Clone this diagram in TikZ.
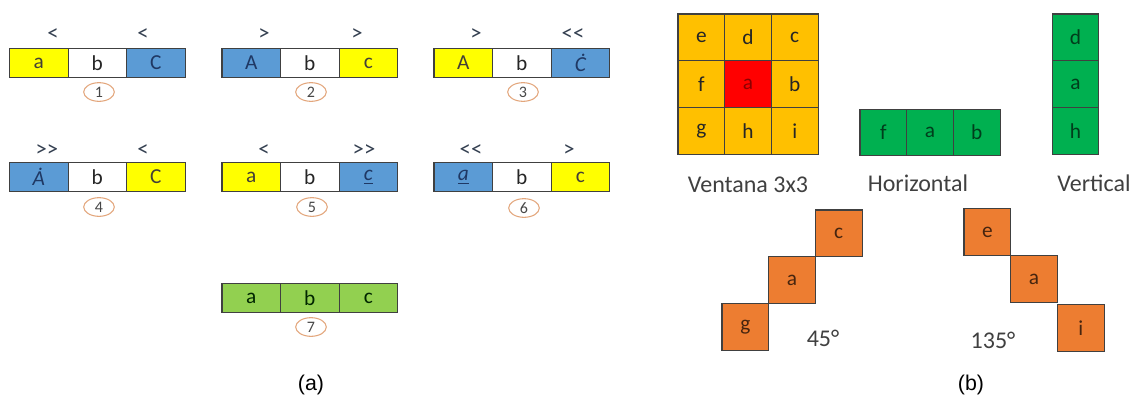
\documentclass[tikz,border=0pt]{standalone}
\usepackage{fontspec}
\setmainfont{Carlito}
\newfontfamily\arialf{Liberation Sans}
\usetikzlibrary{shapes.geometric}
\definecolor{yel}{HTML}{FFFF00}
\definecolor{blu}{HTML}{5B9BD5}
\definecolor{lgr}{HTML}{92D050}
\definecolor{dgr}{HTML}{00B050}
\definecolor{gold}{HTML}{FFC000}
\definecolor{redc}{HTML}{FF0000}
\definecolor{org}{HTML}{ED7D31}
\definecolor{bord}{HTML}{404040}
\definecolor{navy}{HTML}{1F3864}
\definecolor{txt}{HTML}{262626}
\definecolor{circ}{HTML}{E3A67C}
\definecolor{lbl}{HTML}{404040}
\definecolor{symc}{HTML}{333F50}
\tikzset{
 cell/.style={draw=bord, line width=0.8pt, minimum width=43.9pt, minimum height=21.75pt,
   inner sep=0pt, outer sep=0pt, anchor=west, font=\fontsize{16}{16}\selectfont, text=txt},
 ycell/.style={cell, fill=yel, text=black!85!yellow},
 bcell/.style={cell, fill=blu, text=navy},
 wcell/.style={cell, fill=white},
 gcell/.style={cell, fill=lgr, text=black!85!green},
 sq/.style={draw=bord, line width=0.8pt, minimum size=35pt, inner sep=0pt, outer sep=0pt,
   font=\fontsize{16}{16}\selectfont, text=txt},
 gsq/.style={sq, fill=gold},
 rsq/.style={sq, fill=redc, text=red!55!black},
 hsq/.style={sq, fill=dgr, text=dgr!35!black},
 osq/.style={sq, fill=org, text=org!30!black},
 sym/.style={font=\fontsize{17}{17}\selectfont, text=symc, inner sep=0pt},
 numc/.style={ellipse, draw=circ, line width=0.8pt, minimum width=23pt, minimum height=14pt,
   inner sep=0pt, font=\fontsize{12}{12}\selectfont, text=txt!85!white},
 lab/.style={font=\fontsize{18}{18}\selectfont, text=lbl, inner sep=0pt},
 captxt/.style={font=\arialf\fontsize{16}{16}\selectfont, text=black, inner sep=0pt}
}
\newcommand\threebar[9]{%
 \node[#4] (#1a) at (#2,#3) {#5};
 \node[#6] (#1b) at (#1a.east) {#7};
 \node[#8] (#1c) at (#1b.east) {#9};
}
\begin{document}
\begin{tikzpicture}[x=0.75pt,y=-0.75pt]
\useasboundingbox[fill=white] (0,0) rectangle (1139,408);
% ---------- (a) ----------
% row 1
\threebar{ra}{9.5}{63}{ycell}{a}{wcell}{b}{bcell}{C}
\node[sym] (sa1) at (53,35) {<};
\node[sym] (sa2) at (143,35) {<};
\node[numc] (na) at (99,92) {1};
\threebar{rb}{222}{63}{bcell}{A}{wcell}{b}{ycell}{c}
\node[sym] (sb1) at (264,35) {>};
\node[sym] (sb2) at (357,35) {>};
\node[numc] (nb) at (311,92) {2};
\threebar{rc}{434}{63}{ycell}{A}{wcell}{b}{bcell}{\itshape Ċ}
\node[sym] (sc1) at (476,35) {>};
\node[sym] (sc2) at (573,35) {<{}<};
\node[numc] (nc) at (523,92) {3};
% row 2
\threebar{rd}{9.5}{177}{bcell}{\itshape Ȧ}{wcell}{b}{ycell}{C}
\node[sym] (sd1) at (47,151) {>{}>};
\node[sym] (sd2) at (143,151) {<};
\node[numc] (nd) at (99,207) {4};
\threebar{re}{222}{177}{ycell}{a}{wcell}{b}{bcell}{\itshape\underline{c}}
\node[sym] (se1) at (264,151) {<};
\node[sym] (se2) at (364,151) {>{}>};
\node[numc] (ne) at (312,207) {5};
\threebar{rf}{434}{177}{bcell}{\itshape\underline{a}}{wcell}{b}{ycell}{c}
\node[sym] (sf1) at (471,151) {<{}<};
\node[sym] (sf2) at (569,151) {>};
\node[numc] (nf) at (524,208) {6};
% row 3
\threebar{rg}{222}{298}{gcell}{a}{gcell}{b}{gcell}{c}
\node[numc] (ng) at (311,327) {7};
\node[captxt] (capa) at (311,385) {(a)};
% ---------- (b) ----------
% 3x3 window
\node[gsq] (we) at (701.3,37.3) {e};
\node[gsq] (wd) at (748,37.3) {d};
\node[gsq] (wc) at (794.7,37.3) {c};
\node[gsq] (wf) at (701.3,84) {f};
\node[rsq] (wa) at (748,84) {a};
\node[gsq] (wb) at (794.7,84) {b};
\node[gsq] (wg) at (701.3,130.7) {g};
\node[gsq] (wh) at (748,130.7) {h};
\node[gsq] (wi) at (794.7,130.7) {i};
\node[lab] (lv) at (748,185) {Ventana 3x3};
% horizontal
\node[hsq] (hf) at (883.3,132.5) {f};
\node[hsq] (ha) at (930,132.5) {a};
\node[hsq] (hb) at (976.7,132.5) {b};
\node[lab] (lh) at (918,183) {Horizontal};
% vertical
\node[hsq] (vd) at (1075.5,37.3) {d};
\node[hsq] (va) at (1075.5,84) {a};
\node[hsq] (vh) at (1075.5,130.7) {h};
\node[lab] (lvt) at (1094,183) {Vertical};
% 45 deg
\node[osq] (dg) at (745.3,326.7) {g};
\node[osq] (da) at (792,280) {a};
\node[osq] (dc) at (838.7,233.3) {c};
\node[lab] (l45) at (823,338) {45°};
% 135 deg
\node[osq] (ee) at (987.3,232) {e};
\node[osq] (ea) at (1034,279) {a};
\node[osq] (ei) at (1080.7,328) {i};
\node[lab] (l135) at (993,340) {135°};
\node[captxt] (capb) at (971,385) {(b)};
\end{tikzpicture}
\end{document}
